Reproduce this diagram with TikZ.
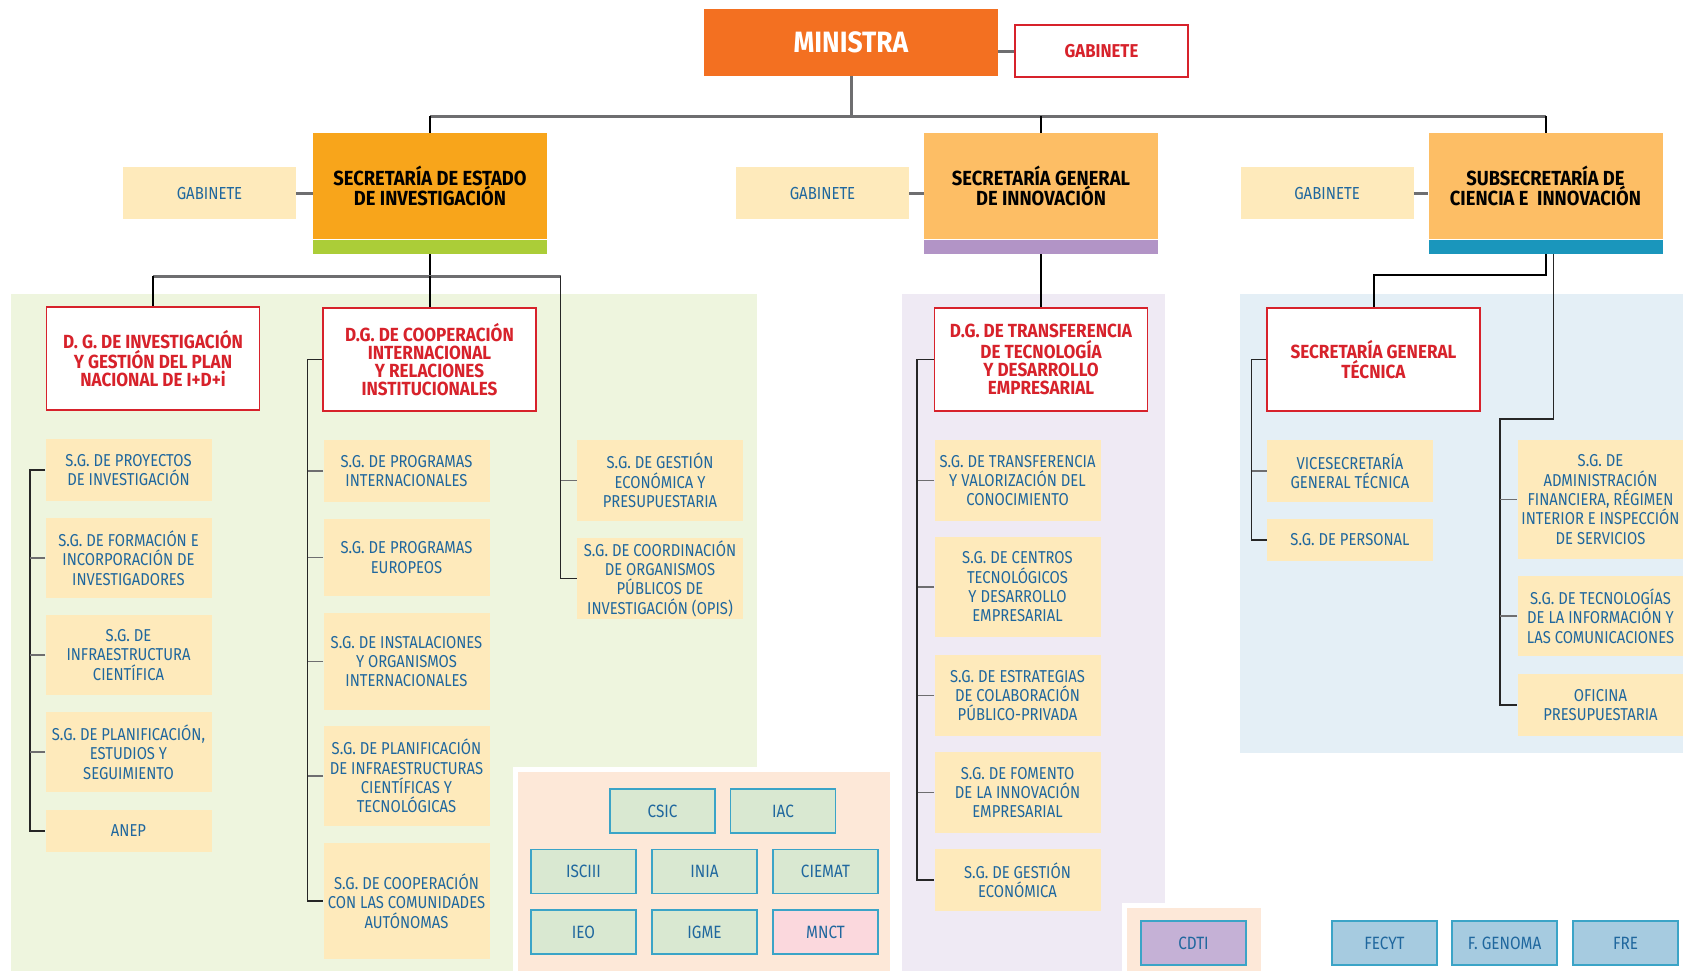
\documentclass[tikz,border=0pt]{standalone}
\usepackage{fontspec}
\setmainfont{Fira Sans}[UprightFeatures={FakeStretch=0.86}, BoldFeatures={FakeStretch=0.9}]
\usetikzlibrary{calc}

\definecolor{ministra}{HTML}{F37021}
\definecolor{orhard}{HTML}{F8A51B}
\definecolor{orsoft}{HTML}{FDBE65}
\definecolor{bargreen}{HTML}{ABCD38}
\definecolor{barpurple}{HTML}{B294C6}
\definecolor{barblue}{HTML}{1A96BC}
\definecolor{beige}{HTML}{FEEABB}
\definecolor{txtblue}{HTML}{1F679E}
\definecolor{txtred}{HTML}{D7222B}
\definecolor{bggreen}{HTML}{EEF5DE}
\definecolor{bgpurple}{HTML}{EFEAF4}
\definecolor{bgblue}{HTML}{E4EFF6}
\definecolor{peach}{HTML}{FDE8D8}
\definecolor{instgreen}{HTML}{D9E8D1}
\definecolor{instline}{HTML}{3BA4C7}
\definecolor{instpink}{HTML}{FBD8DD}
\definecolor{instlila}{HTML}{C5B1D6}
\definecolor{instblue}{HTML}{A6CBE0}
\definecolor{linegray}{HTML}{6E6E70}

\tikzset{
  every node/.style={inner sep=0pt, align=center},
  headbox/.style={minimum width=117pt, minimum height=53pt, font=\bfseries\fontsize{10.2}{10.2}\selectfont},
  barbox/.style={minimum width=117pt, minimum height=7pt, anchor=north},
  gabbox/.style={fill=beige, text=txtblue, minimum width=86.5pt, minimum height=26pt, font=\fontsize{8.7}{9.6}\selectfont},
  dgbox/.style={draw=txtred, line width=0.6pt, fill=white, text=txtred, minimum width=106.5pt, minimum height=51.5pt, font=\bfseries\fontsize{9.5}{9}\selectfont},
  sgbox/.style={fill=beige, text=txtblue, minimum width=83pt, font=\fontsize{8.6}{9.65}\selectfont},
  instbox/.style={draw=instline, line width=0.8pt, fill=instgreen, text=txtblue, minimum width=52.5pt, minimum height=22pt, font=\fontsize{8.9}{10}\selectfont},
  busline/.style={draw=linegray, line width=1.5pt},
  dropline/.style={draw=black, line width=1pt},
  colline/.style={draw=black!85, line width=0.7pt},
  stubline/.style={draw=linegray, line width=0.9pt},
}

\begin{document}
\begin{tikzpicture}[x=0.5pt,y=-0.5pt]
\useasboundingbox (0,0) rectangle (1683,971);

% zonas de fondo
\fill[bggreen] (11,294) rectangle (757,971);
\fill[white] (513,767) rectangle (895,971);
\fill[peach] (518,772) rectangle (890,971);
\fill[bgpurple] (902,294) rectangle (1165,971);
\fill[white] (1122,903) rectangle (1266,971);
\fill[peach] (1127,908) rectangle (1261,971);
\fill[bgblue] (1240,294) rectangle (1683,753);

% nivel superior
\node[fill=ministra, text=white, font=\bfseries\fontsize{14.7}{15}\selectfont, minimum width=147pt, minimum height=33.5pt] (ministra) at (851,42.5) {MINISTRA};
\node[draw=txtred, line width=0.6pt, text=txtred, font=\bfseries\fontsize{9.3}{10}\selectfont, minimum width=86.5pt, minimum height=26pt] (gab0) at (1101.5,51) {GABINETE};
\draw[busline] (gab0.west) -- (gab0.west -| ministra.east);

\node[headbox, fill=orhard] (se) at (430,186) {SECRETARÍA DE ESTADO\\DE INVESTIGACIÓN};
\node[barbox, fill=bargreen] (sebar) at (se.south) {};
\node[headbox, fill=orsoft] (sgi) at (1041,186) {SECRETARÍA GENERAL\\DE INNOVACIÓN};
\node[barbox, fill=barpurple] (sgibar) at (sgi.south) {};
\node[headbox, fill=orsoft] (sub) at (1545.5,186) {SUBSECRETARÍA DE\\CIENCIA E\ \ INNOVACIÓN};
\node[barbox, fill=barblue] (subbar) at (sub.south) {};

\node[gabbox] (gab1) at (209.5,193) {GABINETE};
\node[gabbox] (gab2) at (822.5,193) {GABINETE};
\node[gabbox] (gab3) at (1327,193) {GABINETE};
\draw[busline] (gab1.east) -- (gab1.east -| se.west);
\draw[busline] (gab2.east) -- (gab2.east -| sgi.west);
\draw[busline] (gab3.east) -- (gab3.east -| sub.west);

\coordinate (bus) at (851,116);
\draw[busline] (ministra.south) -- (bus);
\draw[busline] (se.north |- bus) -- (sub.north |- bus);
\draw[dropline] (se.north |- bus) -- (se.north);
\draw[dropline] (sgi.north |- bus) -- (sgi.north);
\draw[dropline] (sub.north |- bus) -- (sub.north);

% secretaria de estado de investigacion
\node[dgbox] (dga) at (153,358.5) {D. G. DE INVESTIGACIÓN\\Y GESTIÓN DEL PLAN\\NACIONAL DE I+D+i};
\node[dgbox] (dgb) at (429.5,359.5) {D.G. DE COOPERACIÓN\\INTERNACIONAL\\Y RELACIONES\\INSTITUCIONALES};

\node[sgbox, minimum height=31pt] (a1) at (128.5,470) {S.G. DE PROYECTOS\\DE INVESTIGACIÓN};
\node[sgbox, minimum height=40pt] (a2) at (128.5,558) {S.G. DE FORMACIÓN E\\INCORPORACIÓN DE\\INVESTIGADORES};
\node[sgbox, minimum height=40pt] (a3) at (128.5,655) {S.G. DE\\INFRAESTRUCTURA\\CIENTÍFICA};
\node[sgbox, minimum height=40pt] (a4) at (128.5,752) {S.G. DE PLANIFICACIÓN,\\ESTUDIOS Y\\SEGUIMIENTO};
\node[sgbox, minimum height=21pt] (a5) at (128.5,831) {ANEP};

\node[sgbox, minimum height=31pt] (b1) at (406.5,471) {S.G. DE PROGRAMAS\\INTERNACIONALES};
\node[sgbox, minimum height=38.5pt] (b2) at (406.5,557.5) {S.G. DE PROGRAMAS\\EUROPEOS};
\node[sgbox, minimum height=48.5pt] (b3) at (406.5,661.5) {S.G. DE INSTALACIONES\\Y ORGANISMOS\\INTERNACIONALES};
\node[sgbox, minimum height=50pt] (b4) at (406.5,776) {S.G. DE PLANIFICACIÓN\\DE INFRAESTRUCTURAS\\CIENTÍFICAS Y\\TECNOLÓGICAS};
\node[sgbox, minimum height=58pt] (b5) at (406.5,901) {S.G. DE COOPERACIÓN\\CON LAS COMUNIDADES\\AUTÓNOMAS};

\node[sgbox, minimum height=40.5pt] (c1) at (660,480.5) {S.G. DE GESTIÓN\\ECONÓMICA Y\\PRESUPUESTARIA};
\node[sgbox, minimum height=40.5pt] (c2) at (660,578.5) {S.G. DE COORDINACIÓN\\DE ORGANISMOS\\PÚBLICOS DE\\INVESTIGACIÓN (OPIS)};

\path (sebar.south) ++(0,22) coordinate (sej);
\path (c1.west) ++(-16,0) coordinate (cstub);
\draw[dropline] (sebar.south) -- (sej);
\draw[busline] (dga.north |- sej) -- (cstub |- sej);
\draw[dropline] (dga.north |- sej) -- (dga.north);
\draw[dropline] (dgb.north |- sej) -- (dgb.north);
\draw[colline] (cstub |- sej) |- (c2.west);
\draw[stubline] (c1.west) -- (cstub);

\draw[colline] (a1.west) -- ++(-15,0) |- (a5.west);
\foreach \n in {a2,a3,a4} \draw[stubline] (\n.west) -- ++(-15,0);
\draw[colline] (dgb.west) -- ++(-15,0) |- (b5.west);
\foreach \n in {b1,b2,b3,b4} \draw[stubline] (\n.west) -- ++(-15,0);

% organismos publicos
\node[instbox] (csic) at (662.5,811) {CSIC};
\node[instbox] (iac) at (783,811) {IAC};
\node[instbox] (isciii) at (583.5,871.5) {ISCIII};
\node[instbox] (inia) at (704.5,871.5) {INIA};
\node[instbox] (ciemat) at (825.5,871.5) {CIEMAT};
\node[instbox] (ieo) at (583.5,932) {IEO};
\node[instbox] (igme) at (704.5,932) {IGME};
\node[instbox, fill=instpink] (mnct) at (825.5,932) {MNCT};

% secretaria general de innovacion
\node[dgbox] (dgc) at (1041,359.5) {D.G. DE TRANSFERENCIA\\DE TECNOLOGÍA\\Y DESARROLLO\\EMPRESARIAL};
\draw[dropline] (sgibar.south) -- (dgc.north);

\node[sgbox, minimum height=40.5pt] (d1) at (1017.5,480.5) {S.G. DE TRANSFERENCIA\\Y VALORIZACIÓN DEL\\CONOCIMIENTO};
\node[sgbox, minimum height=50pt] (d2) at (1017.5,587) {S.G. DE CENTROS\\TECNOLÓGICOS\\Y DESARROLLO\\EMPRESARIAL};
\node[sgbox, minimum height=40.5pt] (d3) at (1017.5,695.5) {S.G. DE ESTRATEGIAS\\DE COLABORACIÓN\\PÚBLICO-PRIVADA};
\node[sgbox, minimum height=40.5pt] (d4) at (1017.5,792.5) {S.G. DE FOMENTO\\DE LA INNOVACIÓN\\EMPRESARIAL};
\node[sgbox, minimum height=31pt] (d5) at (1017.5,880) {S.G. DE GESTIÓN\\ECONÓMICA};
\draw[colline] (dgc.west) -- ++(-17,0) |- (d5.west);
\foreach \n in {d1,d2,d3,d4} \draw[stubline] (\n.west) -- ++(-16,0);

\node[instbox, fill=instlila] (cdti) at (1193.5,943) {CDTI};

% subsecretaria
\node[dgbox] (sgt) at (1373.5,359.5) {SECRETARÍA GENERAL\\TÉCNICA};
\draw[dropline] (subbar.south) -- ++(0,21) -| (sgt.north);

\node[sgbox, minimum height=31pt] (e1) at (1350,471) {VICESECRETARÍA\\GENERAL TÉCNICA};
\node[sgbox, minimum height=21pt] (e2) at (1350,540) {S.G. DE PERSONAL};
\draw[colline] (sgt.west) -- ++(-15,0) |- (e2.west);
\draw[stubline] (e1.west) -- ++(-15,0);

\node[sgbox, minimum height=59.5pt] (f1) at (1600.5,499.5) {S.G. DE\\ADMINISTRACIÓN\\FINANCIERA, RÉGIMEN\\INTERIOR E INSPECCIÓN\\DE SERVICIOS};
\node[sgbox, minimum height=40pt] (f2) at (1600.5,616) {S.G. DE TECNOLOGÍAS\\DE LA INFORMACIÓN Y\\LAS COMUNICACIONES};
\node[sgbox, minimum height=31pt] (f3) at (1600.5,705) {OFICINA\\PRESUPUESTARIA};
\coordinate (fknee) at (1500,419);
\draw[colline] ($(subbar.south)+(8,0)$) |- (fknee) |- (f3.west);
\foreach \n in {f1,f2} \draw[stubline] (\n.west) -- (fknee |- \n.west);

% fundaciones
\node[instbox, fill=instblue] (fecyt) at (1384.5,943) {FECYT};
\node[instbox, fill=instblue] (genoma) at (1504.5,943) {F. GENOMA};
\node[instbox, fill=instblue] (fre) at (1625.5,943) {FRE};
\end{tikzpicture}
\end{document}
